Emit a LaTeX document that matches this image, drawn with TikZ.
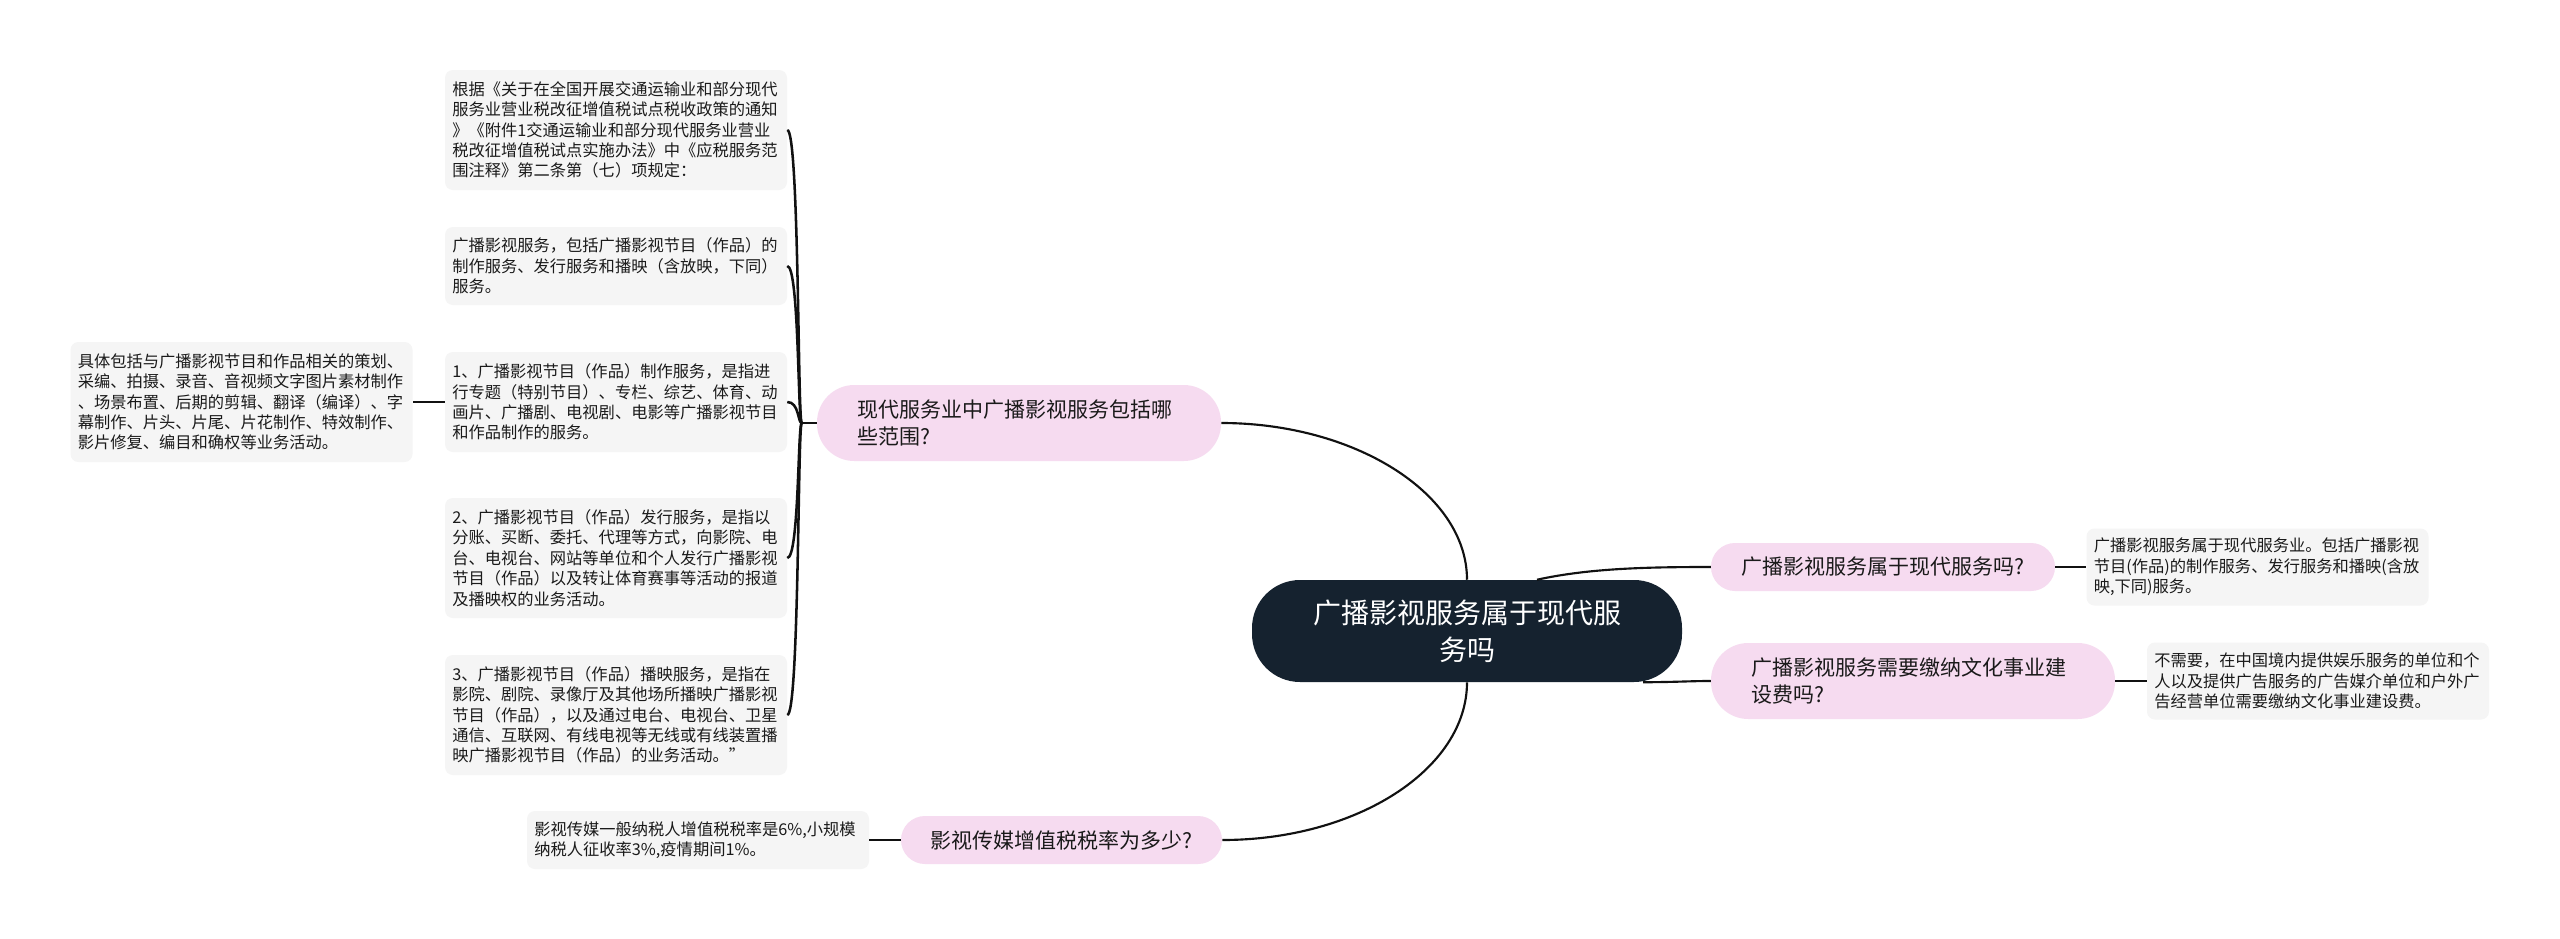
\documentclass[tikz,border=0pt]{standalone}
\usepackage{fontspec}
\newfontfamily\cjk{Noto Sans CJK SC}
\usetikzlibrary{calc}
\definecolor{navy}{HTML}{15222F}
\definecolor{pinkfill}{HTML}{F6DBF0}
\definecolor{boxgray}{HTML}{F5F5F5}
\definecolor{txt}{HTML}{1A1A1A}
\definecolor{linec}{HTML}{111111}
\begin{document}
\begin{tikzpicture}[x=0.75pt,y=-0.75pt,
  root/.style={fill=navy, text=white, rounded corners=36pt, minimum width=322.5pt,
    minimum height=76.5pt, align=center, inner sep=0pt,
    font=\cjk\fontsize{21pt}{27.75pt}\selectfont},
  topic/.style={fill=pinkfill, text=txt, inner sep=0pt,
    font=\cjk\fontsize{15.75pt}{20.25pt}\selectfont},
  topictwo/.style={topic, text width=243pt, inner xsep=30pt, align=left,
    minimum height=57pt, rounded corners=28pt},
  topicone/.style={topic, minimum height=36pt, rounded corners=18pt},
  leaf/.style={fill=boxgray, text=txt, rounded corners=6pt, inner xsep=5.5pt,
    inner ysep=0pt, text width=245.5pt, align=left,
    font=\cjk\fontsize{12.2pt}{15.3pt}\selectfont},
  conn/.style={draw=linec, line width=1.6pt},
  conntwo/.style={draw=linec, line width=1.9pt}
]
\fill[white] (0,0) rectangle (2560,939);
\useasboundingbox (0,0) rectangle (2560,939);

% central
\node[root] (c) at (1467,631) {广播影视服务属于现代服\\务吗};

% main topics
\node[topictwo] (n1) at (1019,423) {现代服务业中广播影视服务包括哪\\些范围?};
\node[topicone, minimum width=240.75pt] (n4) at (1061.5,840) {影视传媒增值税税率为多少?};
\node[topicone, minimum width=258pt] (a) at (1883,567) {广播影视服务属于现代服务吗?};
\node[topictwo] (b) at (1913,681) {广播影视服务需要缴纳文化事业建\\设费吗?};

% leaves left
\node[leaf, minimum height=90pt] (g1) at (616,130) {根据《关于在全国开展交通运输业和部分现代\\服务业营业税改征增值税试点税收政策的通知\\》《附件1交通运输业和部分现代服务业营业\\税改征增值税试点实施办法》中《应税服务范\\围注释》第二条第（七）项规定：};
\node[leaf, minimum height=58.5pt] (g2) at (616,266) {广播影视服务，包括广播影视节目（作品）的\\制作服务、发行服务和播映（含放映，下同）\\服务。};
\node[leaf, minimum height=75pt] (g3) at (616,402) {1、广播影视节目（作品）制作服务，是指进\\行专题（特别节目）、专栏、综艺、体育、动\\画片、广播剧、电视剧、电影等广播影视节目\\和作品制作的服务。};
\node[leaf, minimum height=90pt] (g4) at (616,558) {2、广播影视节目（作品）发行服务，是指以\\分账、买断、委托、代理等方式，向影院、电\\台、电视台、网站等单位和个人发行广播影视\\节目（作品）以及转让体育赛事等活动的报道\\及播映权的业务活动。};
\node[leaf, minimum height=90pt] (g5) at (616,715) {3、广播影视节目（作品）播映服务，是指在\\影院、剧院、录像厅及其他场所播映广播影视\\节目（作品），以及通过电台、电视台、卫星\\通信、互联网、有线电视等无线或有线装置播\\映广播影视节目（作品）的业务活动。”};
\node[leaf, minimum height=90pt] (g6) at (241.5,402) {具体包括与广播影视节目和作品相关的策划、\\采编、拍摄、录音、音视频文字图片素材制作\\、场景布置、后期的剪辑、翻译（编译）、字\\幕制作、片头、片尾、片花制作、特效制作、\\影片修复、编目和确权等业务活动。};
\node[leaf, minimum height=43.5pt] (g7) at (698,840) {影视传媒一般纳税人增值税税率是6\%,小规模\\纳税人征收率3\%,疫情期间1\%。};

% leaves right
\node[leaf, minimum height=57.75pt] (ra) at (2257.5,567) {广播影视服务属于现代服务业。包括广播影视\\节目(作品)的制作服务、发行服务和播映(含放\\映,下同)服务。};
\node[leaf, minimum height=57.75pt] (rb) at (2318,681) {不需要，在中国境内提供娱乐服务的单位和个\\人以及提供广告服务的广告媒介单位和户外广\\告经营单位需要缴纳文化事业建设费。};

% connectors from root
\draw[conn] (c.north) .. controls (1467,493) and (1354,423) .. (n1.east);
\draw[conn] (c.south) .. controls (1467,769) and (1357,840) .. (n4.east);
\draw[conn] ($(c.north)+(70,0)$) .. controls (1590,568) and (1650,567) .. (a.west);
\draw[conn] ($(c.south)+(176,0)$) .. controls (1680,682) and (1690,681) .. (b.west);

% bracket on the left
\coordinate (j) at ($(n1.west)+(-15,0)$);
\draw[conntwo] (n1.west) -- (j);
\foreach \g in {g1,g2,g3,g4,g5}
  \draw[conntwo] (j) .. controls ($(j)+(-4,0)$) and ($(\g.east)+(12,0)$) .. (\g.east);

% short links
\draw[conntwo] (g3.west) -- (g6.east);
\draw[conntwo] (n4.west) -- (g7.east);
\draw[conntwo] (a.east) -- (ra.west);
\draw[conntwo] (b.east) -- (rb.west);
\end{tikzpicture}
\end{document}
